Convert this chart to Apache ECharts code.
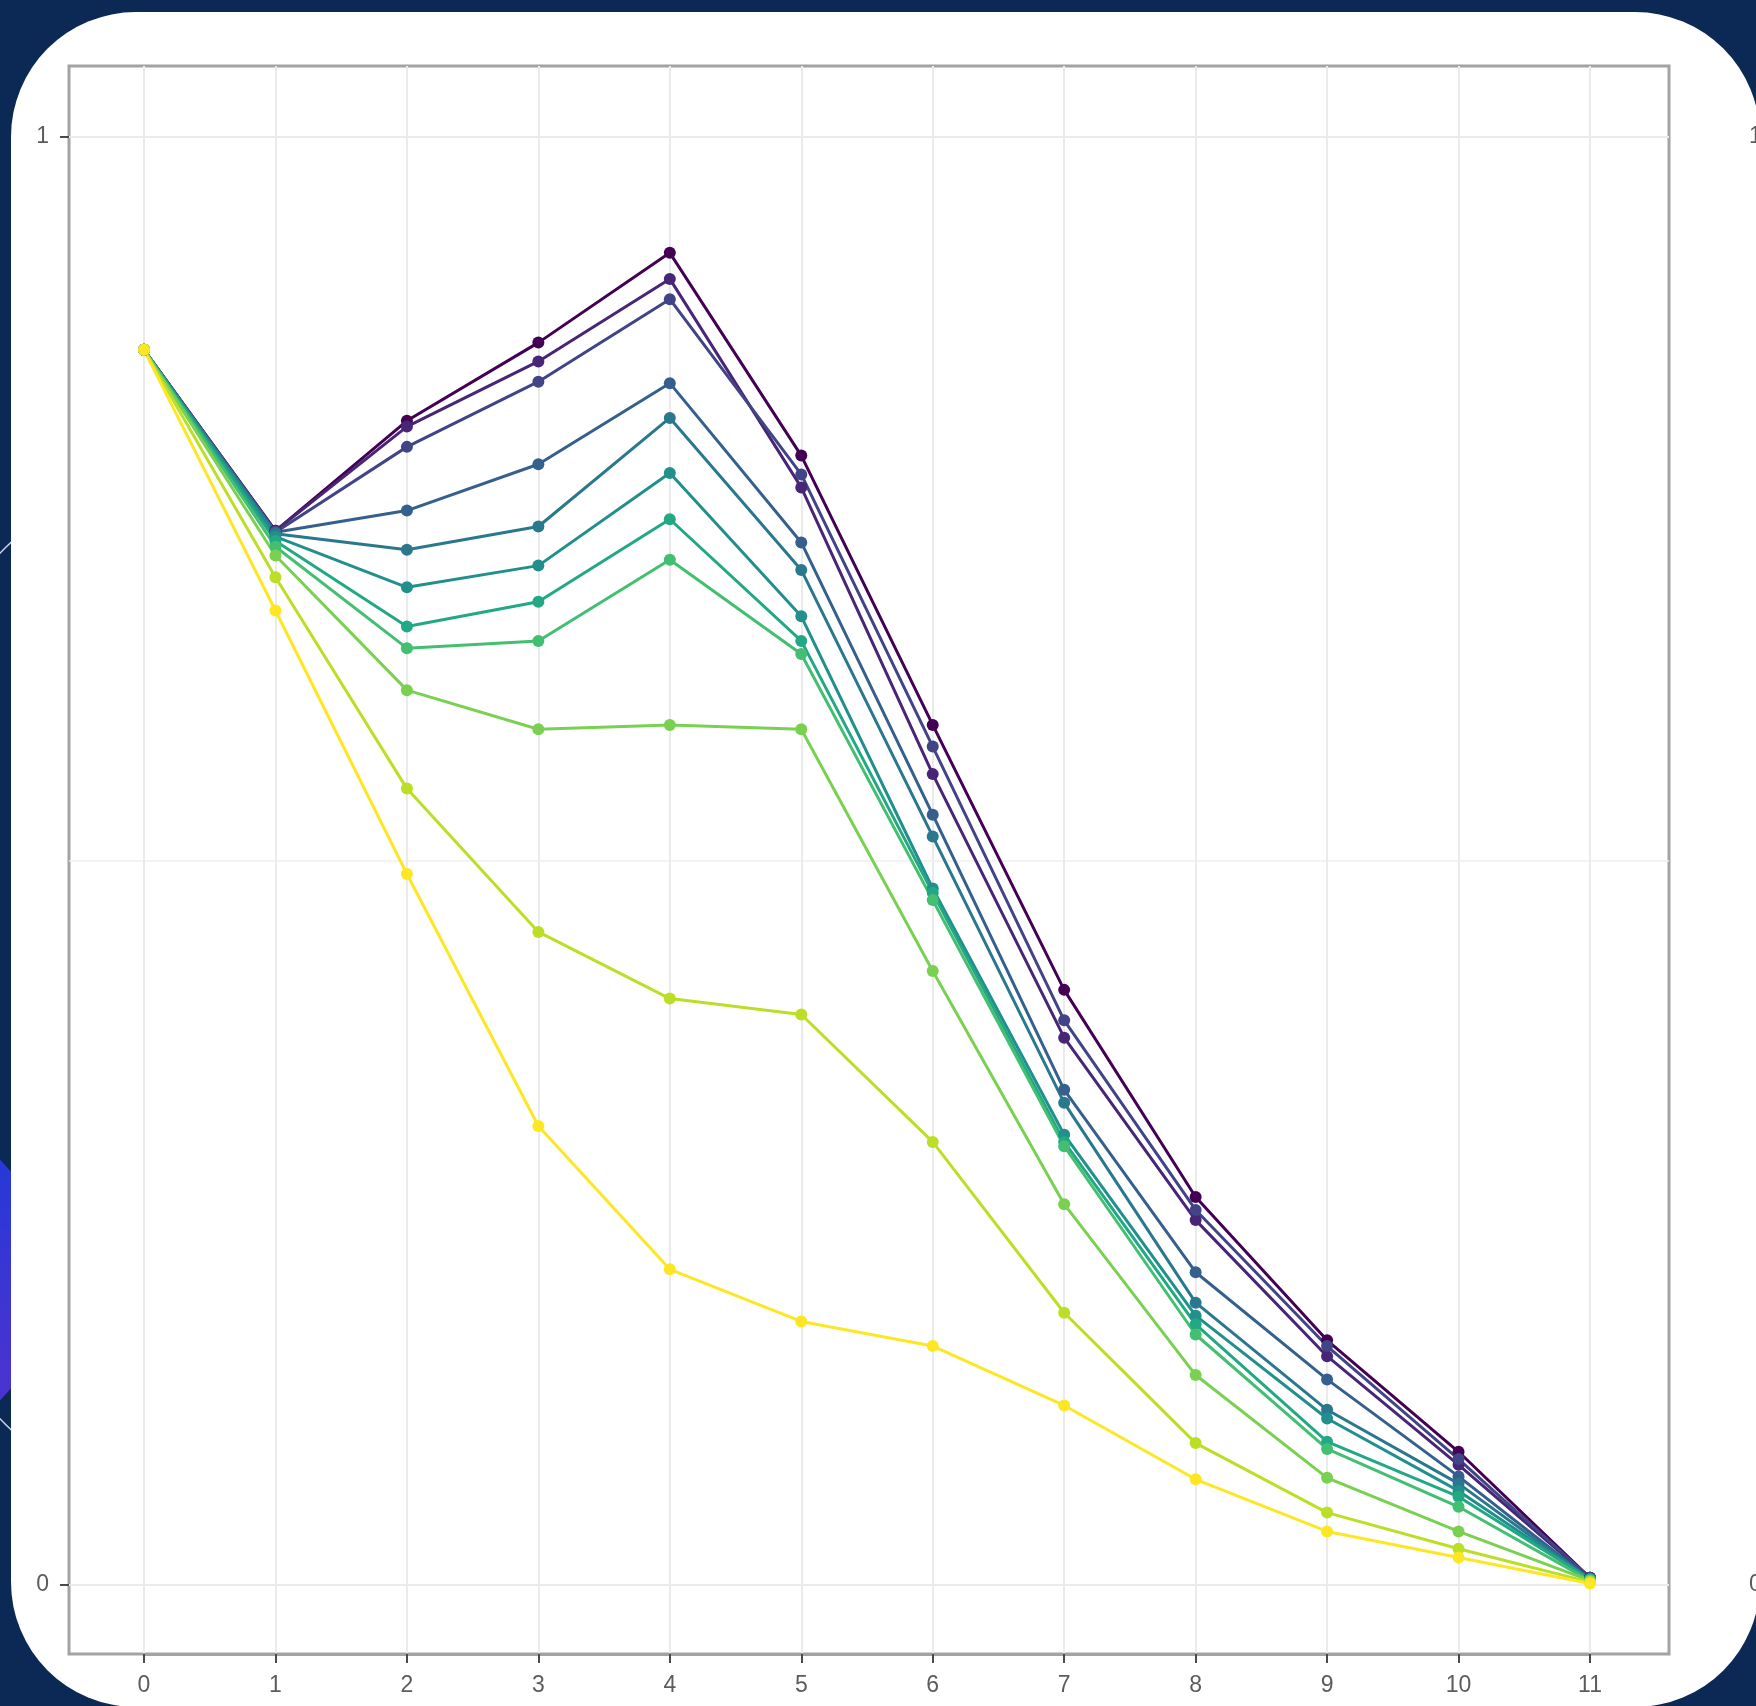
<!DOCTYPE html>
<html>
<head>
<meta charset="utf-8">
<script src="https://cdn.jsdelivr.net/npm/echarts@6/dist/echarts.min.js"></script>
<style>
  html, body { margin: 0; padding: 0; background: #0b2954; }
  #chart { width: 1756px; height: 1706px; }
</style>
</head>
<body>
<div id="chart"></div>
<script>
// Step index along the x axis
const steps = [0, 1, 2, 3, 4, 5, 6, 7, 8, 9, 10, 11];
// Labelled y ticks
const yTicks = [0, 1];

// One array per run, ordered from the darkest (top) to the lightest (bottom) curve
const run01 = [0.853, 0.728, 0.804, 0.858, 0.920, 0.780, 0.594, 0.411, 0.268, 0.169, 0.092, 0.005];
const run02 = [0.853, 0.728, 0.800, 0.845, 0.902, 0.758, 0.560, 0.378, 0.252, 0.158, 0.083, 0.005];
const run03 = [0.853, 0.727, 0.786, 0.831, 0.888, 0.767, 0.579, 0.390, 0.259, 0.165, 0.087, 0.005];
const run04 = [0.853, 0.727, 0.742, 0.774, 0.830, 0.720, 0.532, 0.342, 0.216, 0.142, 0.075, 0.004];
const run05 = [0.853, 0.726, 0.715, 0.731, 0.806, 0.701, 0.517, 0.333, 0.195, 0.121, 0.070, 0.004];
const run06 = [0.853, 0.724, 0.689, 0.704, 0.768, 0.669, 0.481, 0.311, 0.186, 0.115, 0.065, 0.004];
const run07 = [0.853, 0.721, 0.662, 0.679, 0.736, 0.652, 0.478, 0.306, 0.180, 0.099, 0.061, 0.004];
const run08 = [0.853, 0.717, 0.647, 0.652, 0.708, 0.643, 0.473, 0.303, 0.173, 0.094, 0.054, 0.003];
const run09 = [0.853, 0.711, 0.618, 0.591, 0.594, 0.591, 0.424, 0.263, 0.145, 0.074, 0.037, 0.003];
const run10 = [0.853, 0.696, 0.550, 0.451, 0.405, 0.394, 0.306, 0.188, 0.098, 0.050, 0.025, 0.002];
const run11 = [0.853, 0.673, 0.491, 0.317, 0.218, 0.182, 0.165, 0.124, 0.073, 0.037, 0.019, 0.001];

const runs = [run01, run02, run03, run04, run05, run06, run07, run08, run09, run10, run11];

// viridis, 11 levels
const palette = ['#440154', '#482576', '#414487', '#35608D', '#2A788E', '#21908C',
                 '#22A884', '#43BF71', '#7AD151', '#BBDF27', '#FDE725'];

// Panel frame and the inner 0..11 / 0..1 data frame (pixels)
const panel = { left: 69, top: 66, right: 1669, bottom: 1654 };
const inner = { x0: 144, x11: 1590, y1: 137, y0: 1585 };
const xUnit = (inner.x11 - inner.x0) / 11;
const yUnit = (inner.y0 - inner.y1);
const xMin = -(inner.x0 - panel.left) / xUnit;
const xMax = 11 + (panel.right - inner.x11) / xUnit;
const yMax = 1 + (inner.y1 - panel.top) / yUnit;
const yMin = -(panel.bottom - inner.y0) / yUnit;

const textColor = '#5c5c5c';
const fontFamily = '"Liberation Sans", Arial, sans-serif';
const borderColor = '#a3a3a3';
const gridLine = { color: '#ebebeb', width: 2 };
const frameLine = { show: true, onZero: false, lineStyle: { color: borderColor, width: 3 } };
const tickStyle = () => ({ show: true, inside: false, length: 9, lineStyle: { color: '#4a4a4a', width: 2 } });

const chart = echarts.init(document.getElementById('chart'), null, { renderer: 'canvas' });

chart.setOption({
  animation: false,
  backgroundColor: '#0b2954',
  graphic: [
    {
      type: 'circle', z: -3, silent: true,
      shape: { cx: 444, cy: 986, r: 620 },
      style: { fill: 'none', stroke: 'rgba(225,232,248,0.9)', lineWidth: 1.5 }
    },
    {
      type: 'circle', z: -2, silent: true,
      shape: { cx: -120, cy: 1280, r: 170 },
      style: {
        fill: new echarts.graphic.LinearGradient(0, 0, 0, 1, [
          { offset: 0, color: '#1f3ad8' },
          { offset: 1, color: '#5431cf' }
        ])
      }
    },
    {
      type: 'rect', z: -1, silent: true,
      shape: { x: 11, y: 12, width: 1749, height: 1695, r: 125 },
      style: { fill: '#ffffff' }
    },
    {
      type: 'text', z: 5, silent: true, x: 1749, y: inner.y1,
      style: { text: '1', fill: textColor, fontSize: 23, fontFamily: fontFamily, verticalAlign: 'middle' }
    },
    {
      type: 'text', z: 5, silent: true, x: 1749, y: inner.y0,
      style: { text: '0', fill: textColor, fontSize: 23, fontFamily: fontFamily, verticalAlign: 'middle' }
    }
  ],
  grid: [
    // panel with border; series live here
    {
      left: panel.left, top: panel.top,
      width: panel.right - panel.left, height: panel.bottom - panel.top,
      show: true, borderColor: borderColor, borderWidth: 3, backgroundColor: 'transparent',
      containLabel: false, outerBoundsMode: 'none'
    },
    // x breaks 0..11
    {
      left: inner.x0, top: panel.top,
      width: inner.x11 - inner.x0, height: panel.bottom - panel.top,
      containLabel: false, outerBoundsMode: 'none'
    },
    // y breaks 0..1
    {
      left: panel.left, top: inner.y1,
      width: panel.right - panel.left, height: inner.y0 - inner.y1,
      containLabel: false, outerBoundsMode: 'none'
    }
  ],
  xAxis: [
    { gridIndex: 0, type: 'value', min: xMin, max: xMax, show: false },
    {
      gridIndex: 1, type: 'value', min: steps[0], max: steps[steps.length - 1], interval: 1,
      position: 'bottom',
      axisLine: frameLine,
      axisTick: tickStyle(),
      splitLine: { show: true, lineStyle: gridLine },
      axisLabel: { show: true, margin: 20, color: textColor, fontSize: 23, fontFamily: fontFamily }
    },
    { gridIndex: 2, type: 'value', min: 0, max: 1, show: false }
  ],
  yAxis: [
    { gridIndex: 0, type: 'value', min: yMin, max: yMax, show: false },
    { gridIndex: 1, type: 'value', min: 0, max: 1, show: false },
    {
      gridIndex: 2, type: 'value', min: yTicks[0], max: yTicks[yTicks.length - 1], interval: 1,
      position: 'left',
      axisLine: { show: false, onZero: false },
      axisTick: tickStyle(),
      splitLine: { show: true, lineStyle: gridLine },
      minorTick: { show: false, splitNumber: 2 },
      minorSplitLine: { show: true, lineStyle: { color: '#efefef', width: 1.5 } },
      axisLabel: { show: true, margin: 20, color: textColor, fontSize: 23, fontFamily: fontFamily }
    }
  ],
  series: runs.map((vals, i) => ({
    type: 'line',
    xAxisIndex: 0,
    yAxisIndex: 0,
    data: steps.map((s, k) => [s, vals[k]]),
    symbol: 'circle',
    symbolSize: 12,
    showSymbol: true,
    lineStyle: { width: 3, color: palette[i] },
    itemStyle: { color: palette[i] },
    emphasis: { disabled: true }
  }))
});
</script>
</body>
</html>
